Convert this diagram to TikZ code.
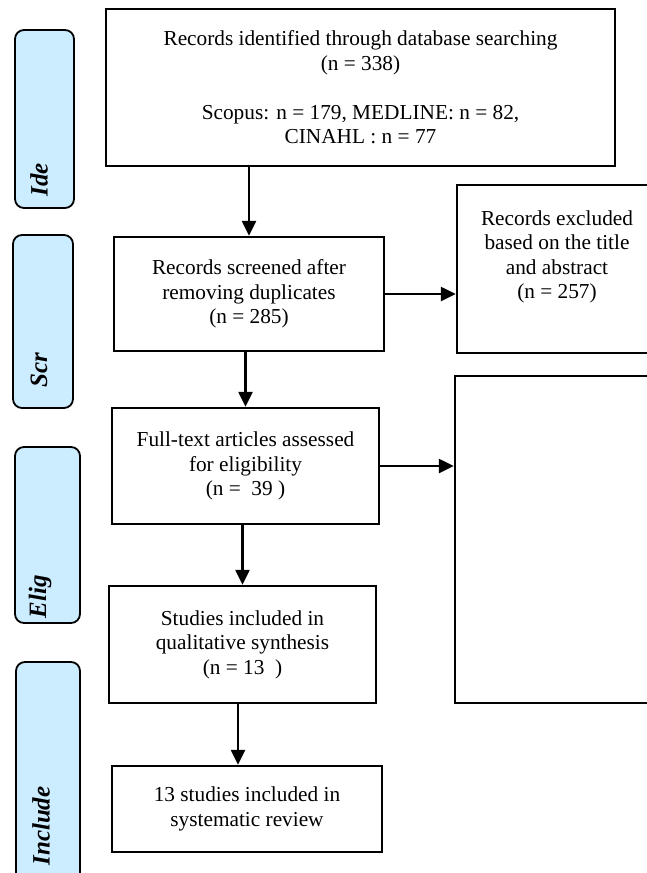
\documentclass[tikz,border=0pt]{standalone}
\usepackage{fontspec}
\setmainfont{Liberation Serif}
\usetikzlibrary{arrows.meta}
\definecolor{phasefill}{RGB}{204,236,255}
\tikzset{
  box/.style={draw=black, line width=2.4pt, fill=white, inner sep=0pt, align=center,
    font=\fontsize{21.3}{24.5}\selectfont},
  phase/.style={draw=black, line width=1.8pt, fill=phasefill, rounded corners=9pt, inner sep=0pt},
  phaselabel/.style={rotate=90, inner sep=0pt,
    font=\fontsize{25}{28}\selectfont\bfseries\itshape},
  arr/.style={line width=2.4pt, -{Triangle[width=14pt,length=15pt]}},
}
\begin{document}
\begin{tikzpicture}[x=1pt,y=-1pt]
  \useasboundingbox (0,0) rectangle (647,873);

  % phase bars on the left
  \node[phase, minimum width=59, minimum height=178] (ide) at (44.5,119) {};
  \node[phase, minimum width=60, minimum height=173] (scr) at (43,321.5) {};
  \node[phase, minimum width=65, minimum height=176] (elig) at (47.5,535) {};
  \node[phase, minimum width=64, minimum height=223] (incl) at (48,773.5) {};
  \node[phaselabel] (idelab) at (39,180) {Ide};
  \node[phaselabel] (scrlab) at (39,370) {Scr};
  \node[phaselabel] (eliglab) at (40,597) {Elig};
  \node[phaselabel] (incllab) at (41,826) {Include};

  % main flow
  \node[box, minimum width=509, minimum height=157] (ident) at (360.5,87.5)
    {Records identified through database searching\\(n = 338)\\[24.5pt]
     Scopus: n = 179, MEDLINE: n = 82,\\CINAHL : n = 77};
  \node[box, minimum width=270, minimum height=114] (screen) at (249,294)
    {Records screened after\\removing duplicates\\(n = 285)};
  \node[box, minimum width=200, minimum height=168] (excl) at (557,269)
    {Records excluded\\based on the title\\and abstract\\(n = 257)\\[4pt]};
  \node[box, minimum width=202, minimum height=327] (ftexcl) at (556,539.5) {};
  \node[box, minimum width=267, minimum height=116] (full) at (245.5,466)
    {Full-text articles assessed\\for eligibility\\(n =\ \ 39 )};
  \node[box, minimum width=267, minimum height=117] (qual) at (242.5,644.5)
    {Studies included in\\qualitative synthesis\\(n = 13\ \ )};
  \node[box, minimum width=270, minimum height=86] (final) at (247,809)
    {13 studies included in\\systematic review};

  % connectors
  \draw[arr] (ident.south -| screen.north) -- (screen.north);
  \draw[arr] (screen.east) -- (excl.west |- screen.east);
  \draw[arr] (full.north |- screen.south) -- (full.north);
  \draw[arr] (full.east) -- (ftexcl.west |- full.east);
  \draw[arr] (qual.north |- full.south) -- (qual.north);
  \draw[arr] ([xshift=-4.5pt]qual.south) -- ([xshift=-4.5pt]qual.south |- final.north);
\end{tikzpicture}
\end{document}
